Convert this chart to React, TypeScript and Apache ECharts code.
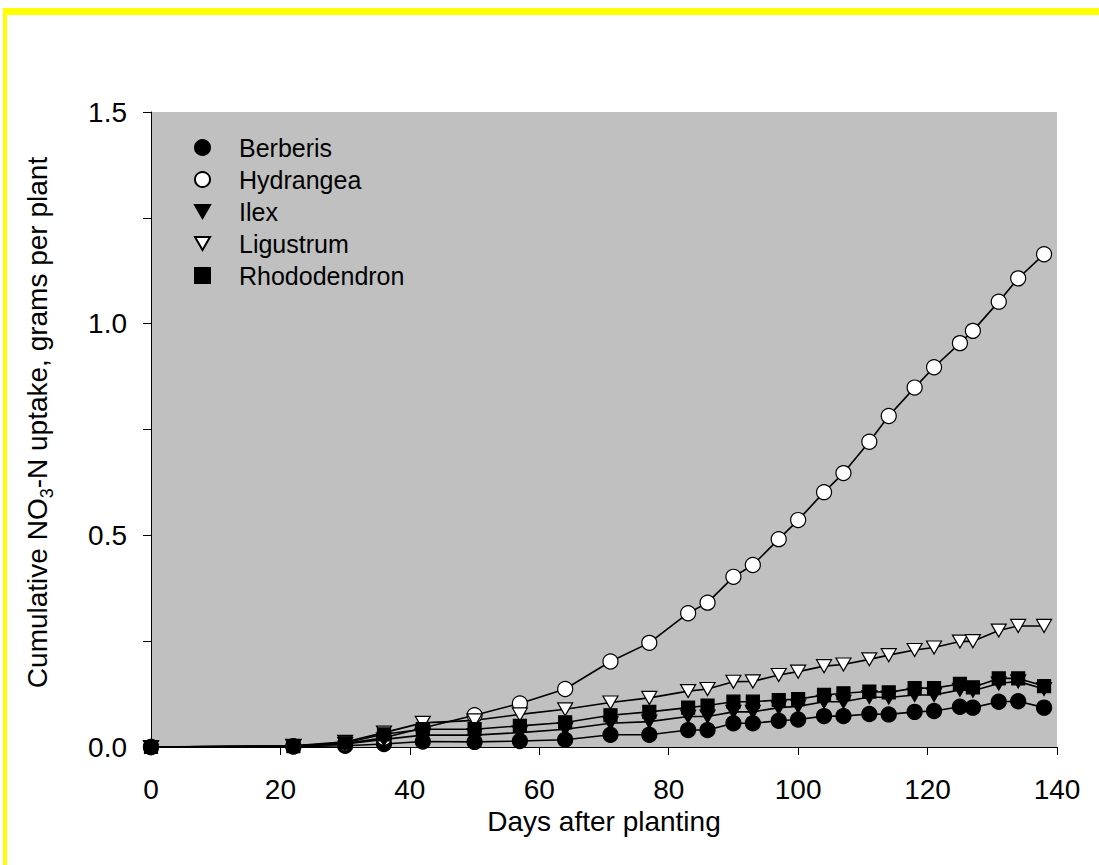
import React, { useEffect, useRef } from "react";
import * as echarts from "echarts";

const days = [0, 22, 30, 36, 42, 50, 57, 64, 71, 77, 83, 86, 90, 93, 97, 100, 104, 107, 111, 114, 118, 121, 125, 127, 131, 134, 138];

const berberis = [0, 0.001, 0.003, 0.007, 0.013, 0.012, 0.014, 0.017, 0.029, 0.029, 0.040, 0.040, 0.056, 0.056, 0.062, 0.065, 0.073, 0.073, 0.078, 0.077, 0.083, 0.085, 0.095, 0.093, 0.107, 0.108, 0.093];
const hydrangea = [0, 0.002, 0.008, 0.022, 0.045, 0.075, 0.103, 0.137, 0.202, 0.246, 0.316, 0.341, 0.402, 0.430, 0.491, 0.536, 0.602, 0.647, 0.721, 0.782, 0.849, 0.897, 0.954, 0.983, 1.052, 1.107, 1.164];
const ilex = [0, 0.002, 0.007, 0.018, 0.028, 0.028, 0.034, 0.042, 0.056, 0.060, 0.072, 0.072, 0.083, 0.083, 0.093, 0.096, 0.107, 0.107, 0.118, 0.117, 0.123, 0.123, 0.135, 0.133, 0.150, 0.155, 0.137];
const ligustrum = [0, 0.003, 0.012, 0.034, 0.057, 0.063, 0.077, 0.089, 0.105, 0.116, 0.132, 0.137, 0.154, 0.155, 0.170, 0.178, 0.191, 0.195, 0.207, 0.217, 0.229, 0.235, 0.249, 0.250, 0.275, 0.286, 0.286];
const rhododendron = [0, 0.002, 0.010, 0.030, 0.042, 0.042, 0.050, 0.058, 0.075, 0.083, 0.093, 0.098, 0.107, 0.107, 0.111, 0.113, 0.123, 0.127, 0.131, 0.129, 0.139, 0.139, 0.149, 0.141, 0.162, 0.162, 0.144];

const xTicks = [0, 20, 40, 60, 80, 100, 120, 140];
const yTicks = [0, 0.5, 1.0, 1.5];

const FONT = "'Liberation Sans', Arial, sans-serif";
const TRI_DOWN = "path://M0,0L10,0L5,8.66Z";

const seriesDefs = [
  { name: "Berberis", values: berberis, symbol: "circle", size: 15, fill: "#000000" },
  { name: "Hydrangea", values: hydrangea, symbol: "circle", size: 15, fill: "#ffffff" },
  { name: "Ilex", values: ilex, symbol: TRI_DOWN, size: [15, 13], fill: "#000000" },
  { name: "Ligustrum", values: ligustrum, symbol: TRI_DOWN, size: [15, 13], fill: "#ffffff" },
  { name: "Rhododendron", values: rhododendron, symbol: "rect", size: 13, fill: "#000000" },
];

export default function App() {
  const ref = useRef<HTMLDivElement>(null);

  useEffect(() => {
    if (!ref.current) return;
    const chart = echarts.init(ref.current, undefined, { renderer: "svg" });
    const option: any = {
      animation: false,
      backgroundColor: "#ffffff",
      textStyle: { fontFamily: FONT },
      graphic: [
        { type: "rect", shape: { x: 3, y: 8, width: 1096, height: 7 }, style: { fill: "#FFFF00" }, silent: true },
        { type: "rect", shape: { x: 3, y: 8, width: 4, height: 857 }, style: { fill: "#FFFF00" }, silent: true },
      ],
      grid: {
        left: 151,
        top: 112,
        right: 42,
        bottom: 118,
        show: true,
        backgroundColor: "#C0C0C0",
        borderWidth: 0,
      },
      legend: {
        orient: "vertical",
        left: 189,
        top: 130,
        itemWidth: 15,
        itemHeight: 15,
        itemGap: 7,
        textStyle: { fontSize: 25, color: "#000", fontFamily: FONT, padding: [0, 0, 0, 24] },
        data: seriesDefs.map((s) => ({ name: s.name, icon: s.symbol })),
      },
      xAxis: {
        type: "value",
        min: 0,
        max: 140,
        interval: 20,
        name: "Days after planting",
        nameLocation: "middle",
        nameGap: 60,
        nameTextStyle: { fontSize: 28, color: "#000", fontFamily: FONT },
        axisLine: { show: true, lineStyle: { color: "#000", width: 1 } },
        axisTick: { show: true, inside: false, length: 8, lineStyle: { color: "#000" } },
        axisLabel: {
          fontSize: 28,
          color: "#000",
          fontFamily: FONT,
          margin: 28,
          formatter: (v: number) => (xTicks.includes(v) ? String(v) : ""),
        },
        splitLine: { show: false },
      },
      yAxis: {
        type: "value",
        min: 0,
        max: 1.5,
        interval: 0.5,
        name: "{a|Cumulative NO}{b|3}{a|-N uptake, grams per plant}",
        nameLocation: "middle",
        nameGap: 95,
        nameRotate: 90,
        nameTextStyle: {
          fontSize: 28,
          color: "#000",
          fontFamily: FONT,
          padding: [0, 0, 0, 14],
          rich: {
            a: { fontSize: 28, color: "#000", fontFamily: FONT, lineHeight: 36, verticalAlign: "middle" },
            b: { fontSize: 18, color: "#000", fontFamily: FONT, lineHeight: 38, verticalAlign: "bottom" },
          },
        },
        axisLine: { show: true, lineStyle: { color: "#000", width: 1 } },
        axisTick: { show: true, inside: false, length: 8, lineStyle: { color: "#000" } },
        minorTick: { show: true, splitNumber: 2, length: 8, lineStyle: { color: "#000" } },
        axisLabel: {
          fontSize: 28,
          color: "#000",
          fontFamily: FONT,
          margin: 24,
          formatter: (v: number) => (yTicks.some((t) => Math.abs(t - v) < 1e-9) ? v.toFixed(1) : ""),
        },
        splitLine: { show: false },
        minorSplitLine: { show: false },
      },
      series: seriesDefs.map((s) => ({
        name: s.name,
        type: "line",
        data: days.map((d, i) => [d, s.values[i]]),
        symbol: s.symbol,
        symbolSize: s.size,
        showAllSymbol: true,
        lineStyle: { color: "#000", width: 1.6 },
        itemStyle: { color: s.fill, borderColor: "#000", borderWidth: 1.2 },
        emphasis: { disabled: true },
      })),
    };
    chart.setOption(option);
    return () => chart.dispose();
  }, []);

  return (
    <div
      ref={ref}
      style={{ position: "fixed", left: 0, top: 0, width: 1099, height: 865 }}
    />
  );
}
